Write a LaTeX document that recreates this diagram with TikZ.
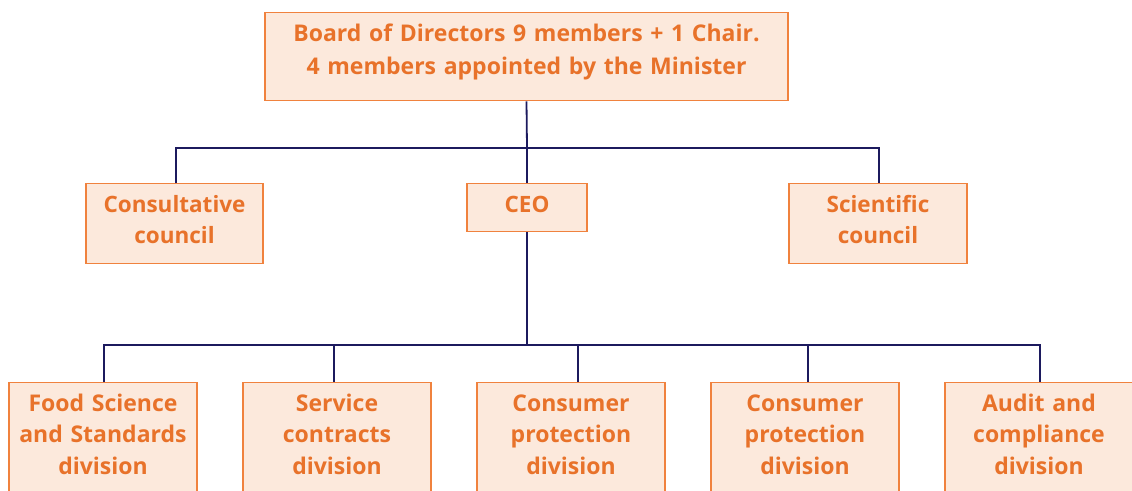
\documentclass[tikz,border=0pt]{standalone}
\usepackage{fontspec}
\setmainfont{Open Sans}
\definecolor{boxfill}{HTML}{FCE9DC}
\definecolor{boxline}{HTML}{F0823E}
\definecolor{boxtext}{HTML}{E8722A}
\definecolor{wirecol}{HTML}{1C1A5E}
\begin{document}
\begin{tikzpicture}[x=1pt,y=-1pt,
  orgbox/.style={draw=boxline, line width=1.3pt, fill=boxfill, text=boxtext,
    font=\bfseries\fontsize{22.5}{31}\selectfont, align=center,
    inner sep=0pt, anchor=north},
  wire/.style={draw=wirecol, line width=1.8pt}]
\useasboundingbox (0,0) rectangle (1132,490);
\clip (0,0) rectangle (1132,490);

% top level
\node[orgbox, font=\bfseries\fontsize{23}{33.5}\selectfont,
  text width=523pt, text height=28.5pt, text depth=59.5pt] (board) at (526.5,12)
  {Board of Directors 9 members + 1 Chair.\\4 members appointed by the Minister};

% second level
\node[orgbox, text width=177pt, text height=29pt, text depth=51pt] (cons) at (174.5,183)
  {Consultative\\council};
\node[orgbox, text width=120pt, text height=29pt, text depth=19pt] (ceo) at (527,183)
  {CEO};
\node[orgbox, text width=178pt, text height=29pt, text depth=51pt] (sci) at (878,183)
  {Scientific\\council};

% divisions
\tikzset{divbox/.style={orgbox, font=\bfseries\fontsize{23}{31.5}\selectfont,
  text width=188pt, text height=28.5pt, text depth=82pt}}
\node[divbox] (food) at (103,382) {Food Science\\and Standards\\division};
\node[divbox] (serv) at (337,382) {Service\\contracts\\division};
\node[divbox] (prot1) at (571,382) {Consumer\\protection\\division};
\node[divbox] (prot2) at (805,382) {Consumer\\protection\\division};
\node[divbox] (audit) at (1039,382) {Audit and\\compliance\\division};

% board to second level
\coordinate (j1) at (527,148);
\draw[wire] (board.south) -- (j1);
\draw[wire] ([xshift=1.5pt]cons.north) -- ([xshift=1.5pt]cons.north |- j1)
  -- ([xshift=1pt]sci.north |- j1) -- ([xshift=1pt]sci.north);
\draw[wire] (j1) -- (ceo.north);

% CEO to divisions
\coordinate (j2) at (527,345);
\draw[wire] (ceo.south) -- (j2);
\draw[wire] ([xshift=1pt]food.north) -- ([xshift=1pt]food.north |- j2)
  -- ([xshift=1pt]audit.north |- j2) -- ([xshift=1pt]audit.north);
\draw[wire] ([xshift=-3pt]serv.north |- j2) -- ([xshift=-3pt]serv.north);
\draw[wire] ([xshift=7pt]prot1.north |- j2) -- ([xshift=7pt]prot1.north);
\draw[wire] ([xshift=3pt]prot2.north |- j2) -- ([xshift=3pt]prot2.north);
\end{tikzpicture}
\end{document}
